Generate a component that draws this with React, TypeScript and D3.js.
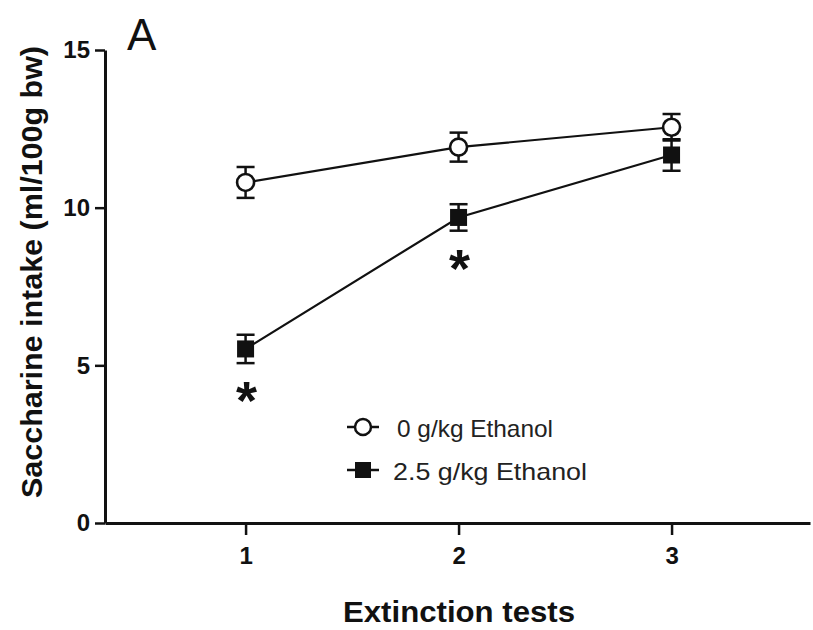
import React, { useEffect, useRef } from 'react';
import * as d3 from 'd3';

// extinction test number
const tests = [1, 2, 3];
// 0 g/kg ethanol group, mean and SEM
const controlMeans = [10.8, 11.92, 12.55];
const controlSem = [0.49, 0.46, 0.42];
// 2.5 g/kg ethanol group, mean and SEM
const ethanolMeans = [5.52, 9.69, 11.67];
const ethanolSem = [0.45, 0.42, 0.5];
// tests marked significant
const starTests = [1, 2];
const yTicks = [0, 5, 10, 15];
const legendLabels = ['0 g/kg Ethanol', '2.5 g/kg Ethanol'];

const FONT = '"Liberation Sans", Arial, sans-serif';

const App = () => {
  const ref = useRef<SVGSVGElement>(null);

  useEffect(() => {
    const svg = d3.select(ref.current);
    svg.selectAll('*').remove();

    const x = d3.scaleLinear().domain([0.34, 3.65]).range([105, 810]);
    const y = d3.scaleLinear().domain([0, 15]).range([523, 50]);

    // axes
    const yAxis = svg.append('g')
      .attr('transform', 'translate(105,0)')
      .call(d3.axisLeft(y).tickValues(yTicks).tickSize(10).tickSizeOuter(0).tickPadding(5));
    const xAxis = svg.append('g')
      .attr('transform', 'translate(0,523)')
      .call(d3.axisBottom(x).tickValues(tests).tickSize(12).tickSizeOuter(0).tickPadding(12).tickFormat(d3.format('d')));

    [yAxis, xAxis].forEach(g => {
      g.select('.domain').attr('stroke', '#111').attr('stroke-width', 3);
      g.selectAll('.tick line').attr('stroke', '#111').attr('stroke-width', 2.5);
      g.selectAll('.tick text')
        .attr('fill', '#111')
        .style('font-family', FONT)
        .style('font-size', '24px')
        .style('font-weight', 'bold');
    });

    const series = [
      { means: controlMeans, sem: controlSem, filled: false },
      { means: ethanolMeans, sem: ethanolSem, filled: true }
    ];

    const line = d3.line<number>()
      .x((_, i) => x(tests[i]))
      .y(d => y(d));

    series.forEach(s => {
      const g = svg.append('g');
      // error bars
      s.means.forEach((m, i) => {
        const cx = x(tests[i]);
        const top = y(m + s.sem[i]);
        const bot = y(m - s.sem[i]);
        g.append('line').attr('x1', cx).attr('x2', cx).attr('y1', top).attr('y2', bot)
          .attr('stroke', '#111').attr('stroke-width', 2.5);
        [top, bot].forEach(yy => {
          g.append('line').attr('x1', cx - 9).attr('x2', cx + 9).attr('y1', yy).attr('y2', yy)
            .attr('stroke', '#111').attr('stroke-width', 2.5);
        });
      });
      g.append('path')
        .attr('d', line(s.means))
        .attr('fill', 'none')
        .attr('stroke', '#111')
        .attr('stroke-width', 2.2);
      s.means.forEach((m, i) => {
        const cx = x(tests[i]);
        if (s.filled) {
          g.append('rect').attr('x', cx - 8.5).attr('y', y(m) - 8.5).attr('width', 17).attr('height', 17)
            .attr('fill', '#111');
        } else {
          g.append('circle').attr('cx', cx).attr('cy', y(m)).attr('r', 8.5)
            .attr('fill', '#fff').attr('stroke', '#111').attr('stroke-width', 2.6);
        }
      });
    });

    // significance stars
    starTests.forEach(t => {
      const i = tests.indexOf(t);
      svg.append('text')
        .attr('x', x(t) + 1)
        .attr('y', y(ethanolMeans[i]) + 70)
        .attr('text-anchor', 'middle')
        .style('font-family', FONT)
        .style('font-size', '54px')
        .style('font-weight', 'bold')
        .attr('fill', '#111')
        .text('*');
    });

    // legend
    const legend = svg.append('g');
    legendLabels.forEach((label, i) => {
      const ly = 427 + i * 43;
      legend.append('line').attr('x1', 347).attr('x2', 379).attr('y1', ly).attr('y2', ly)
        .attr('stroke', '#111').attr('stroke-width', 2.5);
      if (i === 0) {
        legend.append('circle').attr('cx', 363).attr('cy', ly).attr('r', 8)
          .attr('fill', '#fff').attr('stroke', '#111').attr('stroke-width', 2.5);
      } else {
        legend.append('rect').attr('x', 355).attr('y', ly - 8).attr('width', 16).attr('height', 16)
          .attr('fill', '#111');
      }
      legend.append('text')
        .attr('x', i === 0 ? 397 : 393)
        .attr('y', ly + 10)
        .attr('textLength', i === 0 ? 156 : 194)
        .attr('lengthAdjust', 'spacingAndGlyphs')
        .style('font-family', FONT)
        .style('font-size', '24px')
        .attr('fill', '#222')
        .text(label);
    });

    // axis titles
    svg.append('text')
      .attr('x', 459)
      .attr('y', 622)
      .attr('text-anchor', 'middle')
      .attr('textLength', 232)
      .attr('lengthAdjust', 'spacingAndGlyphs')
      .style('font-family', FONT)
      .style('font-size', '30px')
      .style('font-weight', 'bold')
      .attr('fill', '#111')
      .text('Extinction tests');

    svg.append('text')
      .attr('transform', 'translate(42,272) rotate(-90)')
      .attr('text-anchor', 'middle')
      .attr('textLength', 452)
      .attr('lengthAdjust', 'spacingAndGlyphs')
      .style('font-family', FONT)
      .style('font-size', '29px')
      .style('font-weight', 'bold')
      .attr('fill', '#111')
      .text('Saccharine intake (ml/100g bw)');

    svg.append('text')
      .attr('x', 127)
      .attr('y', 50)
      .style('font-family', FONT)
      .style('font-size', '44px')
      .attr('fill', '#111')
      .text('A');
  }, []);

  return (
    <svg ref={ref} width={813} height={630}
      style={{ position: 'absolute', left: 0, top: 0, background: '#fff' }} />
  );
};

export default App;
